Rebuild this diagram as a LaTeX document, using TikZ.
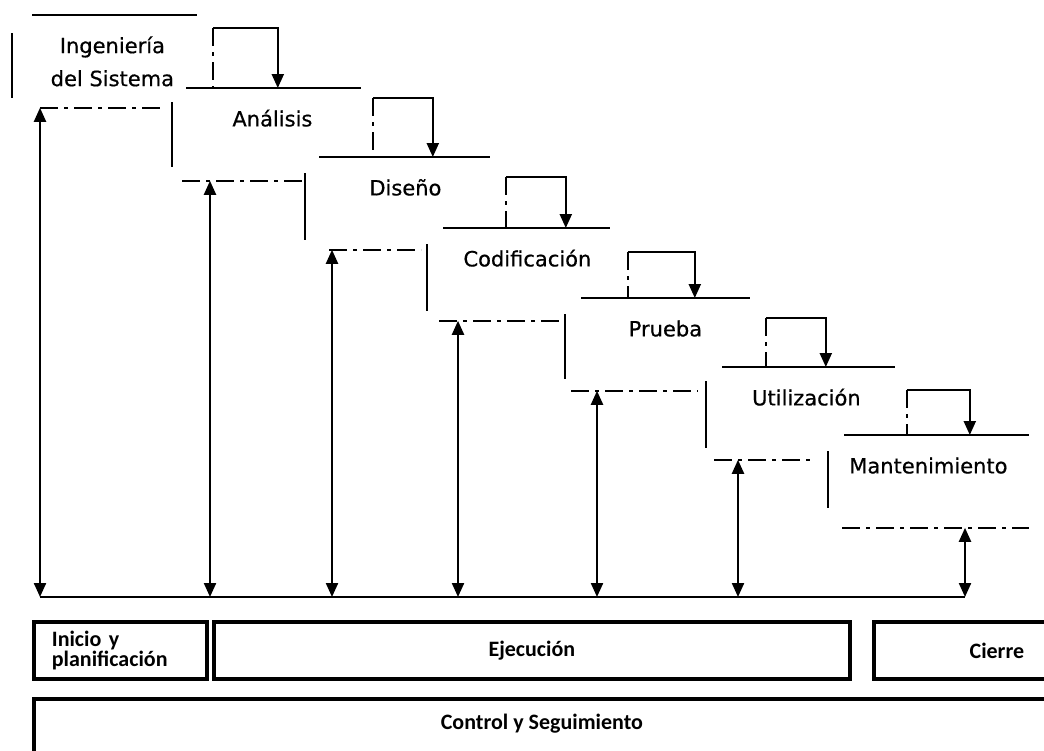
\documentclass[tikz,border=0pt]{standalone}
\usepackage{fontspec}
\usepackage{tikz}
\usetikzlibrary{arrows.meta}
\newfontfamily\stagefont[FakeBold=0.6]{DejaVu Sans}
\newfontfamily\phasefont{Carlito}
\newcommand{\arw}{-{Triangle[length=7pt,width=6pt]}}
\newcommand{\darw}{{Triangle[length=7pt,width=6pt]}-{Triangle[length=7pt,width=6pt]}}

\begin{document}
\begin{tikzpicture}[x=.5pt,y=-.5pt,
  stage/.style={anchor=north west,minimum width=100pt,minimum height=46pt,inner sep=0pt,
    text height=8pt,text depth=16pt,font=\stagefont\fontsize{10.5}{16.5}\selectfont},
  edge/.style={line width=.8pt},
  soft/.style={line width=.8pt,dash pattern=on 9pt off 3pt on 2pt off 3pt},
  link/.style={line width=1.1pt},
  phase/.style={draw,line width=1.9pt,anchor=north west,minimum height=28.5pt,inner sep=0pt,
    font=\phasefont\bfseries\fontsize{11}{10}\selectfont}]
\useasboundingbox (0,0) rectangle (1044,750);
%stages of the cascade
\node[stage,align=center,text height={},text depth={}] (ing) at (12,15) {Ingeniería\\del Sistema};
\node[stage] (ana) at (172,88)  {Análisis};
\node[stage] (dis) at (305,157) {Diseño};
\node[stage] (cod) at (427,228) {Codificación};
\node[stage] (pru) at (565,298) {Prueba};
\node[stage] (uti) at (706,367) {Utilización};
\node[stage] (man) at (828,435) {Mantenimiento};
%box edges
\draw[edge] ([xshift=10pt]ing.north west) -- ([xshift=-8pt]ing.north east) ([yshift=-9pt]ing.north west) -- ([yshift=5pt]ing.south west);
\draw[edge] ([xshift=7pt]ana.north west) -- ([xshift=-6pt]ana.north east) ([yshift=-7pt]ana.north west) -- ([yshift=7pt]ana.south west);
\draw[edge] ([xshift=7pt]dis.north west) -- ([xshift=-8pt]dis.north east) ([yshift=-8pt]dis.north west) -- ([yshift=5pt]dis.south west);
\draw[edge] ([xshift=8pt]cod.north west) -- ([xshift=-9pt]cod.north east) ([yshift=-8pt]cod.north west) -- ([yshift=5pt]cod.south west);
\draw[edge] ([xshift=8pt]pru.north west) -- ([xshift=-8pt]pru.north east) ([yshift=-8pt]pru.north west) -- ([yshift=6pt]pru.south west);
\draw[edge] ([xshift=8pt]uti.north west) -- ([xshift=-6pt]uti.north east) ([yshift=-7pt]uti.north west) -- ([yshift=6pt]uti.south west);
\draw[edge] ([xshift=8pt]man.north west) -- (man.north east) ([yshift=-8pt]man.north west) -- ([yshift=10pt]man.south west);
\draw[soft] ([xshift=14pt]ing.south west) -- ([xshift=-6pt]ing.south west -| ana.west);
\draw[soft] ([xshift=5pt]ana.south west) -- (ana.south west -| dis.west);
\draw[soft] ([xshift=12pt]dis.south west) -- ([xshift=-3pt]dis.south west -| cod.west);
\draw[soft] ([xshift=6pt]cod.south west) -- (cod.south west -| pru.west);
\draw[soft] ([xshift=3pt]pru.south west) -- ([xshift=-4pt]pru.south west -| uti.west);
\draw[soft] ([xshift=4pt]uti.south west) -- ([xshift=-8pt]uti.south west -| man.west);
\draw[soft] ([xshift=7pt]man.south west) -- (man.south east);
%feedback to the next stage
\draw[soft] ([yshift=-6.5pt]ing.north east) -- (ing.north east |- ana.north);
\draw[link,\arw] ([yshift=-6.5pt]ing.north east) -| ([xshift=32.5pt]ing.north east |- ana.north);
\draw[soft] ([yshift=-5pt]ana.north east) -- (ana.north east |- dis.north);
\draw[link,\arw] ([yshift=-5pt]ana.north east) -| ([xshift=30pt]ana.north east |- dis.north);
\draw[soft] ([yshift=-10pt]dis.north east) -- (dis.north east |- cod.north);
\draw[link,\arw] ([yshift=-10pt]dis.north east) -| ([xshift=30pt]dis.north east |- cod.north);
\draw[soft] ([yshift=-12pt]cod.north east) -- (cod.north east |- pru.north);
\draw[link,\arw] ([yshift=-12pt]cod.north east) -| ([xshift=33.5pt]cod.north east |- pru.north);
\draw[soft] ([yshift=-10pt]pru.north east) -- (pru.north east |- uti.north);
\draw[link,\arw] ([yshift=-10pt]pru.north east) -| ([xshift=30pt]pru.north east |- uti.north);
\draw[soft] ([yshift=-11.5pt]uti.north east) -- (uti.north east |- man.north);
\draw[link,\arw] ([yshift=-11.5pt]uti.north east) -| ([xshift=31.5pt]uti.north east |- man.north);
%control arrows down to the common line
\coordinate (base) at (0,597);
\draw[link,\darw] ([xshift=14pt]ing.south west) -- ([xshift=14pt]ing.south west |- base);
\draw[link,\darw] ([xshift=19pt]ana.south west) -- ([xshift=19pt]ana.south west |- base);
\draw[link,\darw] ([xshift=13.5pt]dis.south west) -- ([xshift=13.5pt]dis.south west |- base);
\draw[link,\darw] ([xshift=15.5pt]cod.south west) -- ([xshift=15.5pt]cod.south west |- base);
\draw[link,\darw] ([xshift=16pt]pru.south west) -- ([xshift=16pt]pru.south west |- base);
\draw[link,\darw] ([xshift=16pt]uti.south west) -- ([xshift=16pt]uti.south west |- base);
\draw[link,\darw] ([xshift=68.5pt]man.south west) -- ([xshift=68.5pt]man.south west |- base);
\draw[link] ([xshift=14pt]ing.south west |- base) -- ([xshift=68.5pt]man.south west |- base);
%project phases
\node[phase,minimum width=86.5pt,inner xsep=9pt,text width=68.5pt,align=left] (ini) at (32,620) {Inicio y\\planificación};
\node[phase,minimum width=318pt] (eje) at (212,620) {Ejecución};
\node[phase,minimum width=123pt] (cie) at (872,620) {Cierre};
\node[phase,minimum width=508pt,minimum height=41.5pt,text height=8pt,text depth=18.5pt] (con) at (32,697) {Control y Seguimiento};
\end{tikzpicture}
\end{document}
